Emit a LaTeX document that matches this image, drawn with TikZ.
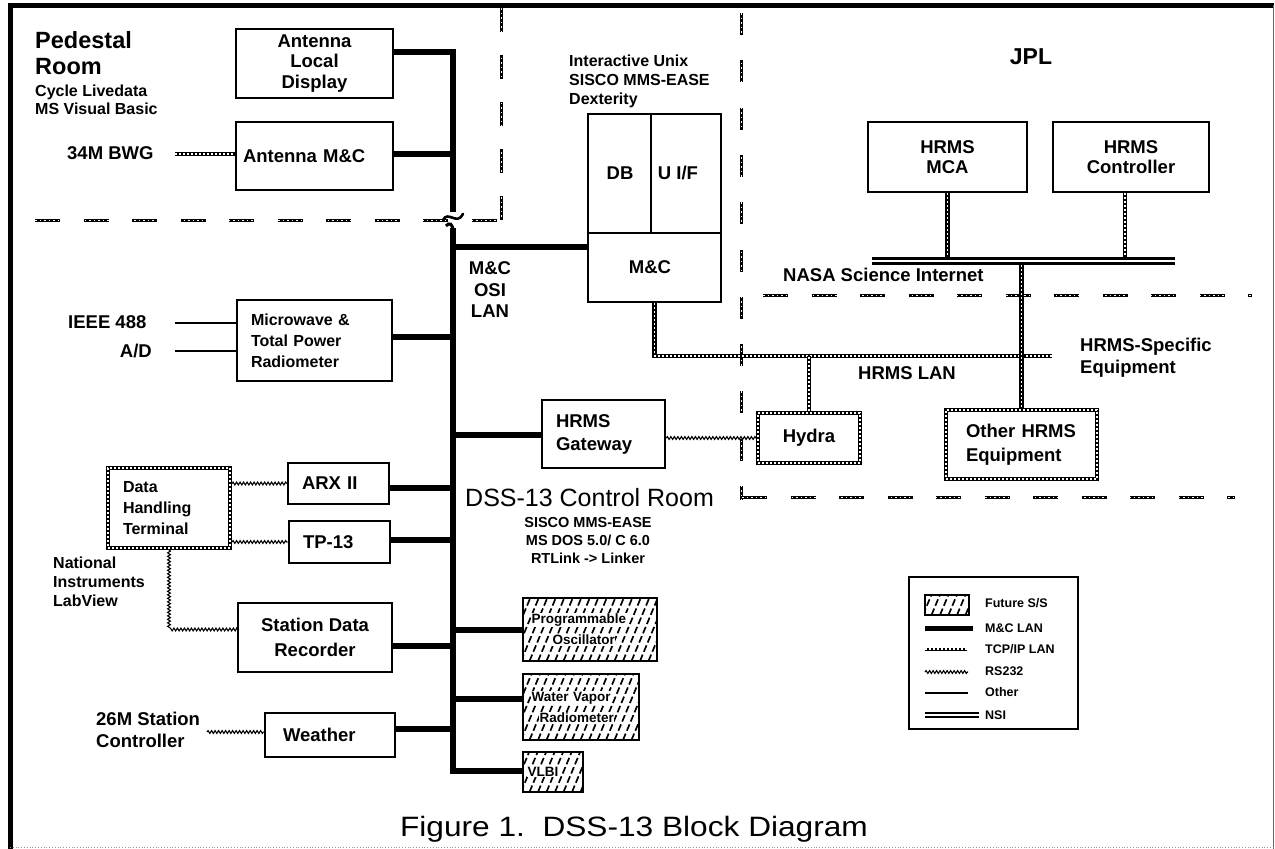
\documentclass[tikz,border=0pt]{standalone}
\usepackage{fontspec}
\setmainfont{Liberation Sans}
\usepackage{graphicx}
\usetikzlibrary{decorations.pathmorphing}
\newcommand\wbx[1]{{\setlength{\fboxsep}{0.6pt}\colorbox{white}{#1}}}
\tikzset{
 bx/.style={draw, line width=2.6pt, inner sep=0pt, align=center, font=\bfseries\fontsize{18.5}{20.5}\selectfont},
 dbx/.style={bx, line width=4pt, postaction={draw, white, line width=1.5pt, dash pattern=on 2pt off 2pt}},
 hbx/.style={bx, line width=2.2pt, font=\bfseries\fontsize{13.5}{21}\selectfont, align=left,
   path picture={\foreach \k in {0,...,26}{\draw[line width=1.7pt, dash pattern=on 7pt off 3pt] ([xshift=\k*8.5pt-70pt]path picture bounding box.south west) -- ++(30pt,72pt);}}},
 mclan/.style={line width=6pt},
 tcpip/.style={line width=4.4pt, postaction={draw, white, line width=1.4pt, dash pattern=on 2pt off 2pt}},
 rs/.style={line width=1.1pt, decorate, decoration={snake, amplitude=1.4pt, segment length=3.5pt}},
 oth/.style={line width=2pt},
 nsi/.style={line width=3pt, double distance=2pt},
 divider/.style={line width=3pt, dash pattern=on 25pt off 23.5pt, postaction={draw, white, line width=0.8pt, dash pattern=on 1.5pt off 3pt}},
 lbl/.style={inner sep=0pt, font=\bfseries\fontsize{18.5}{20.5}\selectfont},
 slbl/.style={inner sep=0pt, font=\bfseries\fontsize{16}{19}\selectfont},
 tlbl/.style={inner sep=0pt, font=\bfseries\fontsize{14.5}{17}\selectfont},
 leglbl/.style={inner sep=0pt, anchor=base west, font=\bfseries\fontsize{12.5}{14}\selectfont},
}
\begin{document}
\begin{tikzpicture}[x=1pt,y=-1pt]
\fill[white] (0,0) rectangle (1275,849);
\useasboundingbox (0,0) rectangle (1275,849);
% frame
\draw[line width=5pt] (8,5) -- (1274,5);
\draw[line width=5pt] (10,3) -- (10,849);
\draw[line width=0.8pt, black!60] (1273,5) -- (1273,849);
\draw[line width=0.8pt, black!40, dotted] (10,847) -- (1273,847);
% dividers
\draw[divider] (35,220) -- (500,220);
\draw[divider, dash pattern=on 24pt off 23pt] (501,8) -- (501,220);
\draw[divider, dash pattern=on 22pt off 25.3pt] (741,13) -- (741,500);
\draw[divider] (763,295) -- (1252,295);
\draw[divider] (742,497) -- (1235,497);

% region labels
\node[lbl, anchor=base west, font=\bfseries\fontsize{23.5}{26}\selectfont] (tped) at (35,48) {Pedestal};
\node[lbl, anchor=base west, font=\bfseries\fontsize{23.5}{26}\selectfont] (troom) at (35,74) {Room};
\node[slbl, anchor=base west] (tcyc) at (35,96) {Cycle Livedata};
\node[slbl, anchor=base west] (tmsvb) at (35,114) {MS Visual Basic};
\node[lbl, anchor=base west] (t34) at (67,159) {34M BWG};
\node[lbl, anchor=base west] (tieee) at (68,328) {IEEE 488};
\node[lbl, anchor=base east] (tad) at (152,357) {A/D};
\node[slbl, anchor=base west] (tni1) at (53,568) {National};
\node[slbl, anchor=base west] (tni2) at (53,587) {Instruments};
\node[slbl, anchor=base west] (tni3) at (53,606) {LabView};
\node[lbl, anchor=base west] (t26a) at (96,725) {26M Station};
\node[lbl, anchor=base west] (t26b) at (96,747) {Controller};
\node[lbl, anchor=base] (tosi1) at (490,274) {M\&C};
\node[lbl, anchor=base] (tosi2) at (490,296) {OSI};
\node[lbl, anchor=base] (tosi3) at (490,317) {LAN};
\node[slbl, anchor=base west] (tiu1) at (569,66) {Interactive Unix};
\node[slbl, anchor=base west] (tiu2) at (569,85) {SISCO MMS-EASE};
\node[slbl, anchor=base west] (tiu3) at (569,104) {Dexterity};
\node[lbl, font=\bfseries\fontsize{23}{25}\selectfont] (tjpl) at (1031,57) {JPL};
\node[lbl, anchor=base west] (tnsi) at (783,281) {NASA Science Internet};
\node[lbl, anchor=base west] (thlan) at (858,379) {HRMS LAN};
\node[lbl, anchor=base west] (thse1) at (1080,351) {HRMS-Specific};
\node[lbl, anchor=base west] (thse2) at (1080,373) {Equipment};
\node[inner sep=0pt, anchor=base west, font=\fontsize{25}{27}\selectfont] (tdss) at (465,506) {DSS-13 Control Room};
\node[tlbl, anchor=base] (tcr1) at (588,527) {SISCO MMS-EASE};
\node[tlbl, anchor=base] (tcr2) at (588,545) {MS DOS 5.0/ C 6.0};
\node[tlbl, anchor=base] (tcr3) at (588,563) {RTLink -> Linker};
\node[inner sep=0pt, anchor=base, font=\fontsize{28}{30}\selectfont] (tcap) at (634,836) {\scalebox{1.13}[1]{Figure 1.\ \ DSS-13 Block Diagram}};

% boxes
\node[bx, minimum width=157pt, minimum height=69pt] (ald) at (314.5,63.5) {Antenna\\Local\\Display};
\node[bx, minimum width=157pt, minimum height=68pt, text width=143pt, inner xsep=7pt, align=left] (amc) at (314.5,156) {Antenna M\&C};
\node[bx, font=\bfseries\fontsize{16}{21}\selectfont, minimum width=155pt, minimum height=81pt, text width=127pt, inner xsep=14pt, align=left] (mw) at (314.5,340.5) {Microwave \&\\Total Power\\Radiometer};
\node[dbx, font=\bfseries\fontsize{16}{21}\selectfont, minimum width=122pt, minimum height=80pt, text width=92pt, inner xsep=15pt, align=left] (dht) at (169,508) {Data\\Handling\\Terminal};
\node[bx, minimum width=101pt, minimum height=41pt, text width=73pt, inner xsep=14pt, align=left] (arx) at (338.5,483.5) {ARX II};
\node[bx, minimum width=101pt, minimum height=42pt, text width=73pt, inner xsep=14pt, align=left] (tp) at (339.5,542) {TP-13};
\node[bx, font=\bfseries\fontsize{18.5}{25}\selectfont, minimum width=154pt, minimum height=69pt] (sdr) at (315,637.5) {Station Data\\Recorder};
\node[bx, minimum width=130pt, minimum height=44pt, text width=94pt, inner xsep=18pt, align=left] (wx) at (330,735) {Weather};
\node[bx, minimum width=133pt, minimum height=188pt] (unix) at (654.5,208) {};
\node[bx, font=\bfseries\fontsize{18.5}{23}\selectfont, minimum width=123pt, minimum height=68pt, text width=95pt, inner xsep=14pt, align=left] (gw) at (603.5,434) {HRMS\\Gateway};
\node[dbx, minimum width=102pt, minimum height=50pt] (hydra) at (809,438) {Hydra};
\node[dbx, font=\bfseries\fontsize{18.5}{24}\selectfont, minimum width=151pt, minimum height=69pt, text width=111pt, inner xsep=20pt, align=left] (other) at (1021.5,444.5) {Other HRMS\\Equipment};
\node[bx, minimum width=159pt, minimum height=70pt] (mca) at (947.5,157) {HRMS\\MCA};
\node[bx, minimum width=156pt, minimum height=70pt] (ctrl) at (1131,157) {HRMS\\Controller};
\node[hbx, minimum width=134pt, minimum height=63pt, text width=118pt, inner xsep=8pt] (po) at (590,629.5) {\wbx{Programmable}\\\hspace*{21pt}\wbx{Oscillator}};
\node[hbx, minimum width=116pt, minimum height=66pt, text width=100pt, inner xsep=8pt] (wvr) at (581,707) {\wbx{Water Vapor}\\\hspace*{8pt}\wbx{Radiometer}};
\node[hbx, minimum width=60pt, minimum height=40pt, text width=52pt, inner xsep=4pt] (vlbi) at (553,772) {\wbx{VLBI}};

% unix box inner parts
\coordinate (uy) at (0,233);
\coordinate (ux) at (651,0);
\draw[line width=2pt] (unix.west |- uy) -- (unix.east |- uy);
\draw[line width=2pt] (unix.north -| ux) -- (ux |- uy);
\node[lbl] (tdb) at (620,173) {DB};
\node[lbl] (tuif) at (678,173) {U I/F};
\node[lbl] (tumc) at (650,267) {M\&C};

% M&C bus
\coordinate (j1) at (453,52);
\coordinate (jbrk) at (453,212);
\draw[mclan, line join=miter] (j1 -| ald.east) -- (j1) -- (jbrk);
\coordinate (j2) at (453,154);
\draw[mclan] (j2 -| amc.east) -- (j2);
\draw[line width=2.6pt, line cap=round] (443,220) .. controls (448,210) and (457,226) .. (463,214);
\coordinate (jlow) at (453,228);
\coordinate (jv) at (453,771);
\draw[mclan, line join=miter] (jlow) -- (jv) -- (jv -| vlbi.west);
\draw[line width=3pt] (446,226) .. controls (449,222) and (453,223) .. (453,232);
\coordinate (ju) at (453,247);   \draw[mclan] (ju) -- (ju -| unix.west);
\coordinate (jmw) at (453,337);  \draw[mclan] (jmw) -- (jmw -| mw.east);
\coordinate (jgw) at (453,435);  \draw[mclan] (jgw) -- (jgw -| gw.west);
\coordinate (jarx) at (453,488); \draw[mclan] (jarx) -- (jarx -| arx.east);
\coordinate (jtp) at (453,540);  \draw[mclan] (jtp) -- (jtp -| tp.east);
\coordinate (jpo) at (453,630);  \draw[mclan] (jpo) -- (jpo -| po.west);
\coordinate (jsdr) at (453,646); \draw[mclan] (jsdr) -- (jsdr -| sdr.east);
\coordinate (jwvr) at (453,699); \draw[mclan] (jwvr) -- (jwvr -| wvr.west);
\coordinate (jwx) at (453,729);  \draw[mclan] (jwx) -- (jwx -| wx.east);

% other connections (left)
\coordinate (c34) at (175,154);
\draw[tcpip, line width=3.6pt] (c34) -- (c34 -| amc.west);
\coordinate (cieee) at (175,323);
\draw[oth] (cieee) -- (cieee -| mw.west);
\coordinate (cad) at (175,351);
\draw[oth] (cad) -- (cad -| mw.west);
\coordinate (c26) at (207,732);
\draw[rs] (c26) -- (c26 -| wx.west);
\draw[rs] (dht.east |- arx.west) -- (arx.west);
\draw[rs] (dht.east |- tp.west) -- (tp.west);
\draw[rs] (dht.south) |- ([yshift=9.5pt]sdr.west);
\draw[rs] (gw.east |- hydra.west) -- (hydra.west);

% HRMS LAN and NSI
\coordinate (lanR) at (1052,356);
\draw[tcpip] (unix.south) |- (lanR);
\draw[tcpip] (hydra.north) -- (hydra.north |- lanR);
\coordinate (nsiL) at (872,261);
\coordinate (nsiR) at (1175,261);
\draw[tcpip] (mca.south) -- (mca.south |- nsiL);
\draw[tcpip] ([xshift=-6pt]ctrl.south) -- ([xshift=-6pt]ctrl.south |- nsiL);
\draw[tcpip] (other.north |- nsiL) -- (other.north);
\draw[nsi] (nsiL) -- (nsiR);

% legend
\node[draw, line width=2pt, minimum width=169pt, minimum height=152pt, inner sep=0pt] (leg) at (993.5,653) {};
\node[hbx, line width=2pt, minimum width=44pt, minimum height=20pt] (lfut) at (947,605) {};
\node[leglbl] (lt1) at (985,607) {Future S/S};
\coordinate (lm1) at (925,628); \coordinate (lm2) at (973,628);
\draw[line width=5pt] (lm1) -- (lm2);
\node[leglbl] (lt2) at (985,632) {M\&C LAN};
\coordinate (lc1) at (925,649); \coordinate (lc2) at (967,649);
\draw[tcpip, line width=3pt] (lc1) -- (lc2);
\node[leglbl] (lt3) at (985,653) {TCP/IP LAN};
\coordinate (lr1) at (925,672); \coordinate (lr2) at (968,672);
\draw[rs] (lr1) -- (lr2);
\node[leglbl] (lt4) at (985,675) {RS232};
\coordinate (lo1) at (925,693); \coordinate (lo2) at (968,693);
\draw[line width=1.5pt] (lo1) -- (lo2);
\node[leglbl] (lt5) at (985,696) {Other};
\coordinate (ln1) at (925,715); \coordinate (ln2) at (979,715);
\draw[line width=2.5pt, double distance=1.5pt] (ln1) -- (ln2);
\node[leglbl] (lt6) at (985,719) {NSI};
\end{tikzpicture}
\end{document}
